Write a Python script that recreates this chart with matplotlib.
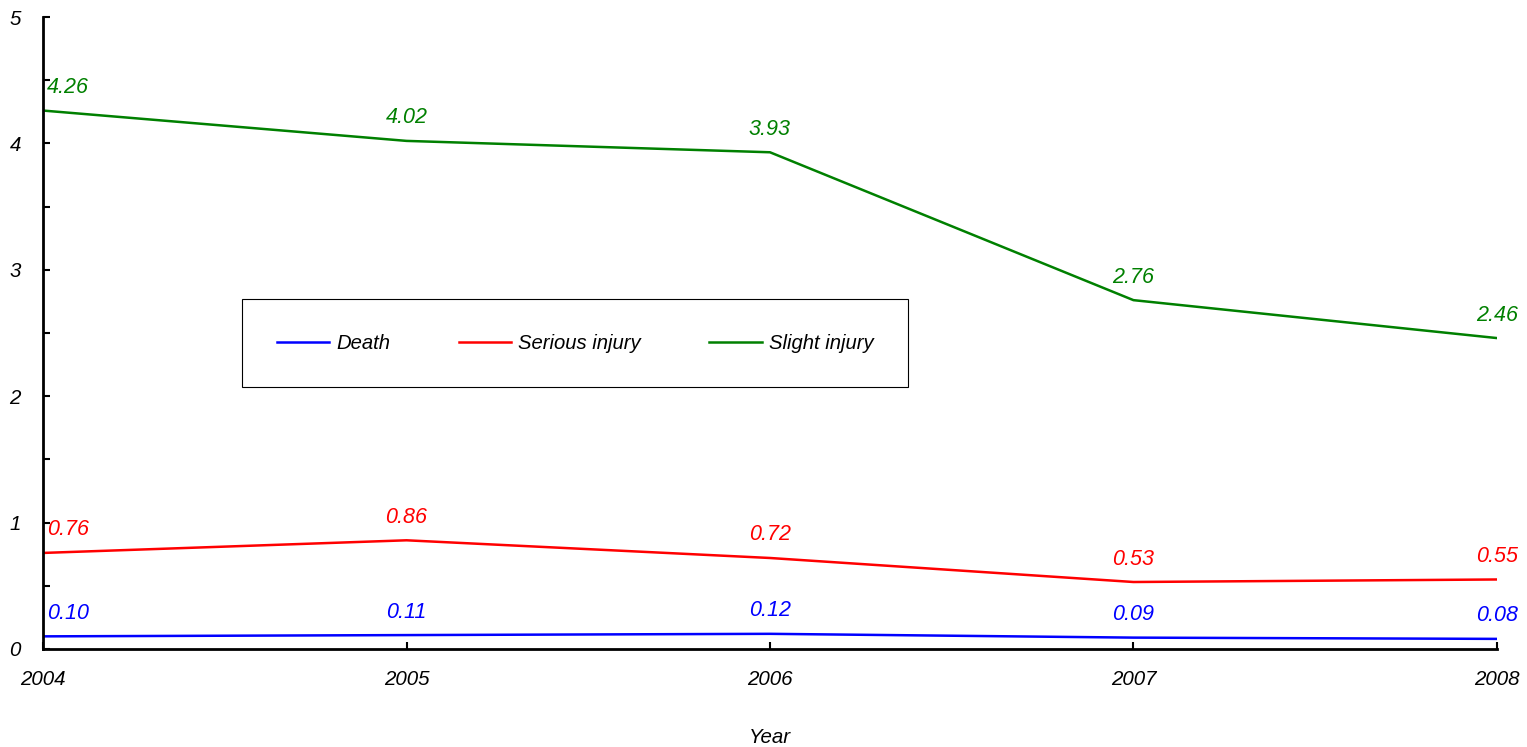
import matplotlib
matplotlib.use('Agg')
import matplotlib.pyplot as plt
from matplotlib.ticker import MultipleLocator

plt.rcParams['font.family'] = ['Liberation Sans', 'DejaVu Sans']
plt.rcParams['font.style'] = 'italic'

years = [2004, 2005, 2006, 2007, 2008]
death = [0.10, 0.11, 0.12, 0.09, 0.08]
serious = [0.76, 0.86, 0.72, 0.53, 0.55]
slight = [4.26, 4.02, 3.93, 2.76, 2.46]

series = [
    ('Death', death, '#0000ff'),
    ('Serious injury', serious, '#ff0000'),
    ('Slight injury', slight, '#008000'),
]

fig = plt.figure(figsize=(15.27, 7.47), dpi=100)
ax = fig.add_axes([0.0282, 0.1312, 0.9521, 0.846])

for name, vals, col in series:
    ax.plot(years, vals, color=col, lw=1.8, label=name)
    for i, (x, y) in enumerate(zip(years, vals)):
        # first label pushed right so it does not sit on the axis
        if i == 0:
            ax.annotate(f'{y:.2f}', (x, y), xytext=(4, 23), textcoords='offset pixels',
                        ha='left', va='center', color=col, fontsize=15.5)
        else:
            ax.annotate(f'{y:.2f}', (x, y), xytext=(0, 23), textcoords='offset pixels',
                        ha='center', va='center', color=col, fontsize=15.5)

ax.set_xlim(2004, 2008)
ax.set_ylim(0, 5)
ax.set_xticks(years)
ax.yaxis.set_major_locator(MultipleLocator(1))
ax.yaxis.set_minor_locator(MultipleLocator(0.5))
ax.tick_params(axis='both', which='both', direction='in', length=5, width=1.5, labelsize=14.8)
ax.tick_params(axis='y', pad=16)
ax.tick_params(axis='x', pad=15)
for s in ['top', 'right']:
    ax.spines[s].set_visible(False)
for s in ['left', 'bottom']:
    ax.spines[s].set_linewidth(2)
ax.set_xlabel('Year', fontsize=14.8, labelpad=28)

leg = ax.legend(loc='center', bbox_to_anchor=(0.137, 0.41, 0.458, 0.147), mode='expand',
                ncol=3, fancybox=False, edgecolor='black', framealpha=1, fontsize=14.6,
                borderpad=1.7, handlelength=2.6, handletextpad=0.35, borderaxespad=0)
leg.get_frame().set_linewidth(0.8)

plt.savefig('out.png', dpi=100)
